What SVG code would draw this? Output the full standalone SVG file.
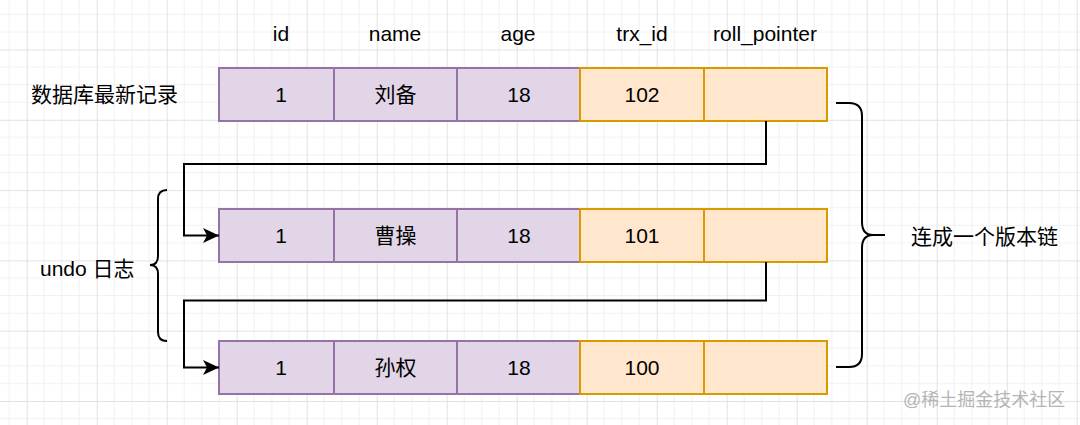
<svg xmlns="http://www.w3.org/2000/svg" width="1080" height="425" viewBox="0 0 1080 425">
<style>
text{font-family:"Liberation Sans","Noto Sans CJK SC",sans-serif;font-size:21px;fill:#000}
.c{text-anchor:middle}
.p{fill:#e1d5e7;stroke:#9673a6;stroke-width:2}
.o{fill:#ffe6cc;stroke:#d79b00;stroke-width:2}
.ln{fill:none;stroke:#000;stroke-width:2}
.wm{font-size:18px;fill:#b5b5b5}
</style>
<defs>
<pattern id="grid" patternUnits="userSpaceOnUse" x="26.7" y="49.5" width="70" height="70.3">
<path d="M17.5,0V70.3M35,0V70.3M52.5,0V70.3M0,17.6H70M0,35.1H70M0,52.7H70" stroke="#f1f1f1" stroke-width="1" fill="none"/>
<path d="M0.5,0V70.3M0,0.5H70" stroke="#e2e2e2" stroke-width="1" fill="none"/>
</pattern>
<marker id="arr" markerUnits="userSpaceOnUse" viewBox="0 0 18 18" markerWidth="18" markerHeight="18" refX="17" refY="9" orient="auto">
<path d="M1,1.5 L17,9 L1,16.5 L5,9 Z" fill="#000"/>
</marker>
</defs>
<rect width="1080" height="425" fill="#fff"/>
<rect width="1080" height="425" fill="url(#grid)"/>

<g id="headers">
<text class="c" x="281" y="41">id</text>
<text class="c" x="395" y="41">name</text>
<text class="c" x="518" y="41">age</text>
<text class="c" x="642" y="41">trx_id</text>
<text class="c" x="765" y="41">roll_pointer</text>
</g>

<g id="label-latest"><text x="31" y="102">数据库最新记录</text></g>
<g id="label-undo"><text x="40" y="276">undo 日志</text></g>
<g id="label-chain"><text x="911" y="244">连成一个版本链</text></g>

<g id="row1">
<rect class="p" x="219" y="68" width="115" height="53"/>
<rect class="p" x="334" y="68" width="123" height="53"/>
<rect class="p" x="457" y="68" width="123" height="53"/>
<rect class="o" x="580" y="68" width="124" height="53"/>
<rect class="o" x="704" y="68" width="123" height="53"/>
<text class="c" x="281" y="102">1</text>
<text class="c" x="395.5" y="102">刘备</text>
<text class="c" x="519" y="102">18</text>
<text class="c" x="642" y="102">102</text>
</g>

<g id="row2">
<rect class="p" x="219" y="209" width="115" height="53"/>
<rect class="p" x="334" y="209" width="123" height="53"/>
<rect class="p" x="457" y="209" width="123" height="53"/>
<rect class="o" x="580" y="209" width="124" height="53"/>
<rect class="o" x="704" y="209" width="123" height="53"/>
<text class="c" x="281" y="243">1</text>
<text class="c" x="395.5" y="243">曹操</text>
<text class="c" x="519" y="243">18</text>
<text class="c" x="642" y="243">101</text>
</g>

<g id="row3">
<rect class="p" x="219" y="341" width="115" height="53"/>
<rect class="p" x="334" y="341" width="123" height="53"/>
<rect class="p" x="457" y="341" width="123" height="53"/>
<rect class="o" x="580" y="341" width="124" height="53"/>
<rect class="o" x="704" y="341" width="123" height="53"/>
<text class="c" x="281" y="375">1</text>
<text class="c" x="395.5" y="375">孙权</text>
<text class="c" x="519" y="375">18</text>
<text class="c" x="642" y="375">100</text>
</g>

<g id="connectors">
<path class="ln" d="M766,121 V164 H184 V235.5 H219" marker-end="url(#arr)"/>
<path class="ln" d="M766,262 V300.5 H184 V367.5 H219" marker-end="url(#arr)"/>
<path class="ln" d="M167,190 Q158,190 158,199 L158,256 Q158,265 150,265 Q158,265 158,274 L158,332 Q158,341 167,341"/>
<path class="ln" d="M836,103 L849,103 Q862,103 862,116 L862,222 Q862,235 873,235 L885,235 M873,235 Q862,235 862,248 L862,354 Q862,367 849,367 L836,367"/>
</g>

<text class="wm" x="903" y="406">@稀土掘金技术社区</text>
</svg>
